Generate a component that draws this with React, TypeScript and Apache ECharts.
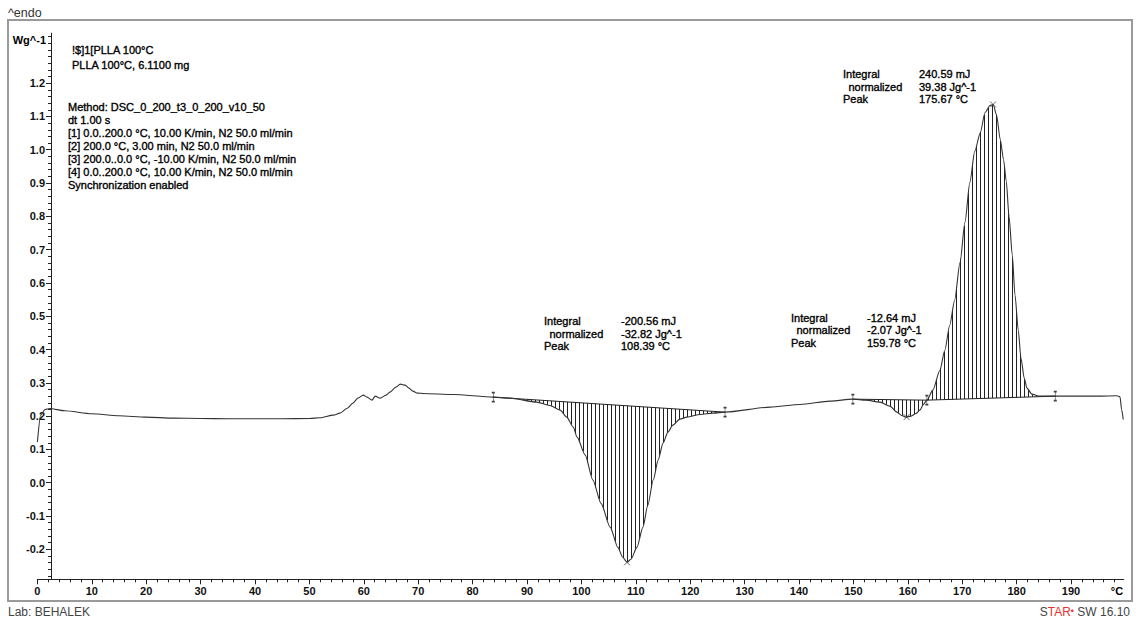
import React, { useEffect, useRef } from 'react';
import * as echarts from 'echarts';

// ---------- data ----------
const temperature = [
  0, 0.6, 1.4, 2.3, 5, 10, 15, 20, 25, 30, 35, 40, 45, 50, 51.9, 54.4, 55.6, 56.9, 58.0, 58.9,
  59.9, 60.6, 61.5, 62.1, 63.0, 64.1, 64.8, 65.9, 66.7, 67.6, 68.3, 69.0, 69.9, 70.9, 76.4, 83.8,
  86.9, 91.8, 94.2, 96.1, 97.3, 98.5, 99.2, 100.7, 102.1, 103.6, 105.3, 106.7, 107.6, 108.4, 109.1,
  110.2, 111.3, 112.2, 113.2, 114.1, 115.0, 115.9, 116.8, 118.1, 119.4, 121.8, 124.2, 126.4, 134.7,
  140.2, 145.7, 149.9, 152.3, 154.9, 156.7, 158.0, 158.9, 159.6, 160.6, 161.5, 162.2, 162.9, 163.5,
  164.6, 165.9, 166.8, 167.7, 168.6, 169.6, 170.5, 171.4, 172.3, 173.3, 174.2, 175.1, 175.7, 176.3,
  177.0, 177.6, 178.1, 178.6, 179.2, 179.7, 180.3, 180.8, 181.4, 181.9, 182.8, 184.3, 187.1, 191.7,
  195.3, 198.4, 199.0, 199.3, 199.6,
];
const heatFlow = [
  0.122, 0.203, 0.220, 0.223, 0.216, 0.207, 0.201, 0.197, 0.194, 0.193, 0.192, 0.192, 0.192, 0.193,
  0.195, 0.203, 0.209, 0.223, 0.239, 0.254, 0.263, 0.257, 0.248, 0.260, 0.254, 0.263, 0.272, 0.287,
  0.296, 0.293, 0.284, 0.275, 0.269, 0.268, 0.265, 0.257, 0.254, 0.242, 0.232, 0.218, 0.197, 0.167,
  0.137, 0.083, 0.008, -0.062, -0.134, -0.194, -0.224, -0.239, -0.230, -0.194, -0.134, -0.068, 0.008,
  0.068, 0.119, 0.152, 0.173, 0.191, 0.197, 0.205, 0.209, 0.212, 0.227, 0.235, 0.245, 0.251, 0.248,
  0.242, 0.230, 0.212, 0.202, 0.197, 0.200, 0.208, 0.218, 0.236, 0.248, 0.278, 0.338, 0.398, 0.473,
  0.548, 0.662, 0.782, 0.902, 0.995, 1.050, 1.112, 1.133, 1.136, 1.105, 1.030, 0.970, 0.905, 0.800,
  0.684, 0.564, 0.458, 0.374, 0.314, 0.284, 0.266, 0.260, 0.260, 0.260, 0.260, 0.261, 0.258, 0.220,
  0.190,
];

// integration regions (limits and baseline values at the limits)
const regionStart = [83.8, 149.9, 163.5];
const regionEnd = [126.4, 163.5, 187.1];
const baselineStart = [0.257, 0.251, 0.248];
const baselineEnd = [0.212, 0.248, 0.260];

// peaks
const peakTemp = [108.39, 159.78, 175.67];
const peakValue = [-0.239, 0.197, 1.136];

// annotation values
const integralText = ['-200.56 mJ', '-12.64 mJ', '240.59 mJ'];
const normalizedText = ['-32.82 Jg^-1', '-2.07 Jg^-1', '39.38 Jg^-1'];
const peakText = ['108.39 °C', '159.78 °C', '175.67 °C'];

// axis ticks
const xMajorTicks = [0, 10, 20, 30, 40, 50, 60, 70, 80, 90, 100, 110, 120, 130, 140, 150, 160, 170, 180, 190];
const yMajorTicks = [-0.2, -0.1, 0.0, 0.1, 0.2, 0.3, 0.4, 0.5, 0.6, 0.7, 0.8, 0.9, 1.0, 1.1, 1.2];
const xMinorStep = 2;
const yMinorStep = 0.02;
const X_MIN = 0;
const X_MAX = 199.7;
const Y_MIN = -0.29;
const Y_MAX = 1.35;

const methodLines = [
  'Method: DSC_0_200_t3_0_200_v10_50',
  'dt 1.00 s',
  '[1] 0.0..200.0 °C, 10.00 K/min, N2 50.0 ml/min',
  '[2] 200.0 °C, 3.00 min, N2 50.0 ml/min',
  '[3] 200.0..0.0 °C, -10.00 K/min, N2 50.0 ml/min',
  '[4] 0.0..200.0 °C, 10.00 K/min, N2 50.0 ml/min',
  'Synchronization enabled',
];
const sampleLines = ['!$]1[PLLA 100°C', 'PLLA 100°C, 6.1100 mg'];

// ---------- helpers ----------
const FONT = '"Liberation Sans", Arial, Helvetica, sans-serif';

function range(a: number, b: number, step: number): number[] {
  const out: number[] = [];
  const n = Math.round((b - a) / step);
  for (let i = 0; i <= n; i++) out.push(Math.round((a + i * step) * 1000) / 1000);
  return out;
}
const xMinorTicks = range(0, 198, xMinorStep);
const yMinorTicks = range(-0.28, 1.34, yMinorStep);

function txt(text: string, x: number, y: number, opts: any = {}) {
  const heavy = opts.heavy !== false;
  return {
    type: 'text',
    x,
    y,
    silent: true,
    style: {
      text,
      font: `${opts.weight || 'normal'} ${opts.size || 11}px ${FONT}`,
      fill: opts.color || '#000',
      align: opts.align || 'left',
      verticalAlign: 'middle',
      stroke: heavy ? opts.color || '#000' : undefined,
      lineWidth: heavy ? 0.35 : 0,
    },
  };
}

export default function App() {
  const ref = useRef<HTMLDivElement>(null);

  useEffect(() => {
    if (!ref.current) return;
    const chart = echarts.init(ref.current, null, { renderer: 'svg' });

    const curve = temperature.map((t, i) => [t, heatFlow[i]]);
    const regions = regionStart.map((s, i) => [s, regionEnd[i], baselineStart[i], baselineEnd[i]]);

    const hatchRender = (params: any, api: any) => {
      const x1 = api.value(0);
      const x2 = api.value(1);
      const b1 = api.value(2);
      const b2 = api.value(3);
      const pts: number[][] = [];
      for (let k = 0; k < temperature.length; k++) {
        if (temperature[k] >= x1 - 1e-9 && temperature[k] <= x2 + 1e-9) {
          pts.push(api.coord([temperature[k], heatFlow[k]]));
        }
      }
      const p1 = api.coord([x1, b1]);
      const p2 = api.coord([x2, b2]);
      const children: any[] = [];
      let j = 0;
      for (let px = Math.ceil(p1[0]) + 1.5; px < p2[0] - 0.5; px += 4) {
        while (j < pts.length - 2 && pts[j + 1][0] < px) j++;
        const a = pts[j];
        const b = pts[j + 1];
        const t = (px - a[0]) / (b[0] - a[0] || 1);
        const cy = a[1] + (b[1] - a[1]) * t;
        const by = p1[1] + ((p2[1] - p1[1]) * (px - p1[0])) / (p2[0] - p1[0]);
        children.push({
          type: 'line',
          shape: { x1: px, y1: cy, x2: px, y2: by },
          style: { stroke: '#222', lineWidth: 1 },
        });
      }
      children.push({
        type: 'line',
        shape: { x1: p1[0], y1: p1[1], x2: p2[0], y2: p2[1] },
        style: { stroke: '#222', lineWidth: 1 },
      });
      return { type: 'group', children };
    };

    const limitMarks = [
      ...regionStart.map((s, i) => [s, baselineStart[i]]),
      [regionEnd[0], baselineEnd[0]],
      [regionEnd[2], baselineEnd[2]],
    ];
    const peakMarks = peakTemp.map((t, i) => [t, peakValue[i]]);

    const graphics: any[] = [];
    graphics.push({
      type: 'rect',
      silent: true,
      shape: { x: 8, y: 20, width: 1124, height: 581 },
      style: { fill: 'none', stroke: '#9a9a9a', lineWidth: 2 },
      z: -1,
    });
    graphics.push(txt('^endo', 8, 13, { size: 12.5, color: '#333', heavy: false }));
    graphics.push(txt('Wg^-1', 46, 40, { weight: 'bold', align: 'right', heavy: false }));
    graphics.push(txt('°C', 1117, 591, { weight: 'bold', align: 'center', heavy: false }));
    graphics.push(txt('Lab: BEHALEK', 8, 612, { size: 12, color: '#444', heavy: false }));
    graphics.push({
      type: 'text',
      x: 1130,
      y: 612,
      silent: true,
      style: {
        text: '{g|S}{r|TAR}{d|•}{g| SW 16.10}',
        align: 'right',
        verticalAlign: 'middle',
        rich: {
          g: { fontSize: 12, fontFamily: FONT, fill: '#444', color: '#444' },
          r: { fontSize: 12, fontFamily: FONT, fill: '#e8312f', color: '#e8312f' },
          d: { fontSize: 9, fontFamily: FONT, fill: '#e8312f', color: '#e8312f', verticalAlign: 'top' },
        },
      },
    });
    sampleLines.forEach((l, i) => graphics.push(txt(l, 72, 50 + i * 15)));
    methodLines.forEach((l, i) => graphics.push(txt(l, 68, 106.5 + i * 13)));

    const blocks = [
      { lx: 544, vx: 621, y: 321 },
      { lx: 791, vx: 867, y: 317.5 },
      { lx: 843, vx: 919, y: 74 },
    ];
    blocks.forEach((b, i) => {
      graphics.push(txt('Integral', b.lx, b.y));
      graphics.push(txt('normalized', b.lx + 5.5, b.y + 12.7));
      graphics.push(txt('Peak', b.lx, b.y + 25.4));
      graphics.push(txt(integralText[i], b.vx, b.y));
      graphics.push(txt(normalizedText[i], b.vx, b.y + 12.7));
      graphics.push(txt(peakText[i], b.vx, b.y + 25.4));
    });

    const gridBox = { left: 37.4, right: 12.2, top: 33.2, bottom: 42.7 };
    const axisColor = '#222';
    const labelStyle = { fontSize: 11, fontWeight: 'bold', color: '#111', fontFamily: FONT };

    const option: any = {
      animation: false,
      backgroundColor: '#fff',
      grid: [
        { ...gridBox, containLabel: false },
        { ...gridBox, containLabel: false },
      ],
      xAxis: [
        {
          type: 'value',
          gridIndex: 0,
          min: X_MIN,
          max: X_MAX,
          position: 'bottom',
          axisLine: { show: true, onZero: false, lineStyle: { color: axisColor, width: 1 } },
          axisTick: { show: true, customValues: xMajorTicks, length: 5, lineStyle: { color: axisColor } },
          axisLabel: { ...labelStyle, customValues: xMajorTicks, margin: 6, formatter: (v: number) => String(v) },
          splitLine: { show: false },
        },
        {
          type: 'value',
          gridIndex: 1,
          min: X_MIN,
          max: X_MAX,
          position: 'bottom',
          axisLine: { show: false, onZero: false },
          axisTick: { show: true, customValues: xMinorTicks, length: 3, lineStyle: { color: axisColor } },
          axisLabel: { show: false },
          splitLine: { show: false },
        },
      ],
      yAxis: [
        {
          type: 'value',
          gridIndex: 0,
          min: Y_MIN,
          max: Y_MAX,
          position: 'left',
          offset: -13.6,
          axisLine: { show: true, onZero: false, lineStyle: { color: axisColor, width: 1 } },
          axisTick: { show: true, customValues: yMajorTicks, length: 5, lineStyle: { color: axisColor } },
          axisLabel: { ...labelStyle, customValues: yMajorTicks, margin: 6, formatter: (v: number) => v.toFixed(1) },
          splitLine: { show: false },
        },
        {
          type: 'value',
          gridIndex: 1,
          min: Y_MIN,
          max: Y_MAX,
          position: 'left',
          offset: -13.6,
          axisLine: { show: false, onZero: false },
          axisTick: { show: true, customValues: yMinorTicks, length: 3, lineStyle: { color: axisColor } },
          axisLabel: { show: false },
          splitLine: { show: false },
        },
      ],
      series: [
        {
          type: 'custom',
          name: 'integration',
          xAxisIndex: 0,
          yAxisIndex: 0,
          data: regions,
          encode: { x: [0, 1], y: [2, 3] },
          renderItem: hatchRender,
          z: 1,
          silent: true,
        },
        {
          type: 'line',
          name: 'DSC',
          xAxisIndex: 0,
          yAxisIndex: 0,
          data: curve,
          showSymbol: false,
          smooth: 0.25,
          smoothMonotone: 'x',
          lineStyle: { color: '#333', width: 1.1 },
          z: 3,
          silent: true,
        },
        {
          type: 'scatter',
          name: 'limits',
          xAxisIndex: 0,
          yAxisIndex: 0,
          data: limitMarks,
          symbol: 'path://M0,0L4,0M2,0L2,10M0,10L4,10',
          symbolSize: [3, 9],
          itemStyle: { color: 'transparent', borderColor: '#111', borderWidth: 1 },
          z: 4,
          silent: true,
        },
        {
          type: 'scatter',
          name: 'peaks',
          xAxisIndex: 0,
          yAxisIndex: 0,
          data: peakMarks,
          symbol: 'path://M0,0L8,8M8,0L0,8',
          symbolSize: 6,
          itemStyle: { color: 'transparent', borderColor: '#444', borderWidth: 1 },
          z: 4,
          silent: true,
        },
      ],
      graphic: graphics,
    };

    chart.setOption(option);
    return () => chart.dispose();
  }, []);

  return (
    <div
      ref={ref}
      style={{ position: 'absolute', left: 0, top: 0, width: 1136, height: 622, background: '#fff' }}
    />
  );
}
